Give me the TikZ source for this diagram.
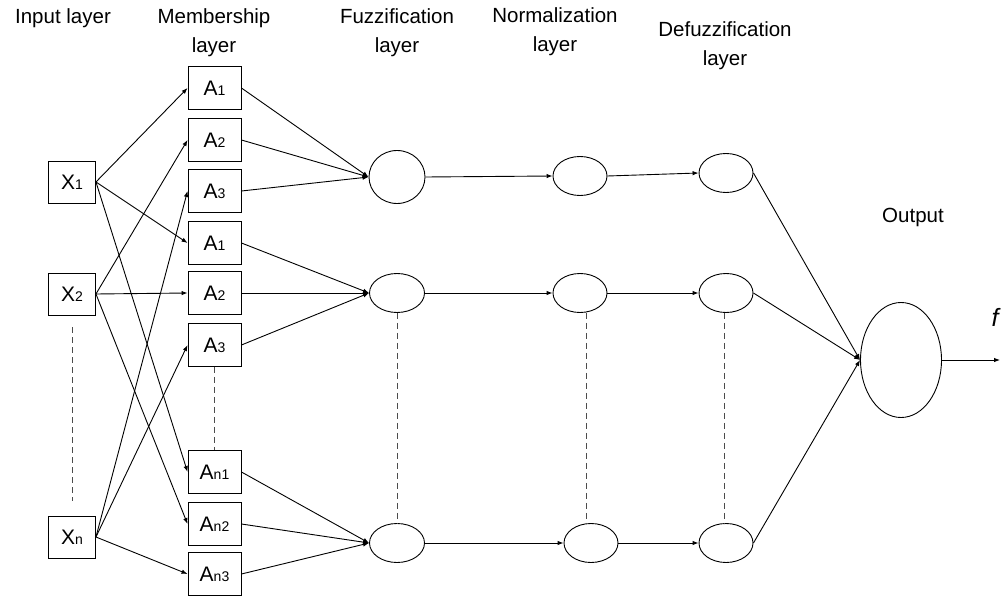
\documentclass[tikz,border=0pt]{standalone}
\usepackage{fontspec}
\setmainfont{Liberation Sans}
\usetikzlibrary{arrows.meta,shapes.geometric}
\newcommand\lsub[1]{{\fontsize{14}{14}\selectfont #1}}
\begin{document}
\begin{tikzpicture}[x=1pt,y=-1pt,line width=0.9pt,
	hdr/.style={align=center,font=\fontsize{20.5}{29}\selectfont},
	cell/.style={draw,minimum width=53,minimum height=43,inner sep=0,font=\fontsize{21}{21}\selectfont},
	xcell/.style={cell,minimum width=47,minimum height=42},
	unit/.style={draw,ellipse,minimum width=55,minimum height=39,inner sep=0},
	link/.style={-{Latex[length=6pt,width=4.5pt]}},
	gap/.style={dash pattern=on 6pt off 4pt,draw=black!70,line width=1pt}]
	\useasboundingbox (0,0) rectangle (1008,596);
	% headers
	\node[hdr] (hin) at (63,18) {Input layer};
	\node[hdr] (hmem) at (214,33) {Membership\\layer};
	\node[hdr] (hfuz) at (397,33) {Fuzzification\\layer};
	\node[hdr] (hnor) at (555,32) {Normalization\\layer};
	\node[hdr] (hdef) at (725,46) {Defuzzification\\layer};
	\node[hdr] (hout) at (913,217) {Output};
	% input layer
	\node[xcell] (X1) at (72,182) {X\lsub{1}};
	\node[xcell] (X2) at (72,294) {X\lsub{2}};
	\node[xcell] (Xn) at (72,537) {X\lsub{n}};
	% membership layer
	\foreach \name/\txt/\y in {A1a/1/88, A2a/2/140, A3a/3/191, A1b/1/243, A2b/2/293, A3b/3/345, An1/n1/472, An2/n2/524, An3/n3/574}
		\node[cell] (\name) at (214.5,\y) {A\lsub{\txt}};
	% fuzzification, normalization, defuzzification
	\node[unit,minimum height=53,minimum width=56] (F1) at (397,177) {};
	\node[unit] (F2) at (397,293) {};
	\node[unit] (F3) at (397,543) {};
	\node[unit,minimum width=54] (N1) at (580,176) {};
	\node[unit,minimum width=54] (N2) at (580,293) {};
	\node[unit,minimum width=54] (N3) at (591,543) {};
	\node[unit,minimum width=54] (D1) at (726,173) {};
	\node[unit,minimum width=54] (D2) at (726,293) {};
	\node[unit,minimum width=54] (D3) at (726,543) {};
	% output
	\node[unit,minimum width=81,minimum height=115] (O) at (901,360) {};
	\coordinate (fend) at (1000,360);
	\node[font=\fontsize{25}{25}\selectfont\itshape] (f) at (995,317) {f};
	% inputs to membership
	\foreach \src/\dst in {X1/A1a, X1/A1b, X1/An1, X2/A2a, X2/A2b, X2/An2, Xn/A3a, Xn/A3b, Xn/An3}
		\draw[link] (\src.east) -- (\dst.west);
	% membership to fuzzification
	\foreach \src/\dst in {A1a/F1, A2a/F1, A3a/F1, A1b/F2, A2b/F2, A3b/F2, An1/F3, An2/F3, An3/F3}
		\draw[link] (\src.east) -- (\dst.west);
	% rows
	\foreach \i in {1,2,3} {
		\draw[link] (F\i.east) -- (N\i.west);
		\draw[link] (N\i.east) -- (D\i.west);
		\draw[link] (D\i.east) -- (O.west);
	}
	\draw[link] (O.east) -- (fend);
	% dashed gaps
	\draw[gap,shorten <=12pt,shorten >=15pt] (X2.south) -- (Xn.north);
	\draw[gap] (A3b.south) -- (An1.north);
	\draw[gap] (F2.south) -- (F3.north);
	\draw[gap] (N2.south -| 586,0) -- (N3.north -| 586,0);
	\draw[gap] (D2.south -| 724,0) -- (D3.north -| 724,0);
\end{tikzpicture}
\end{document}
